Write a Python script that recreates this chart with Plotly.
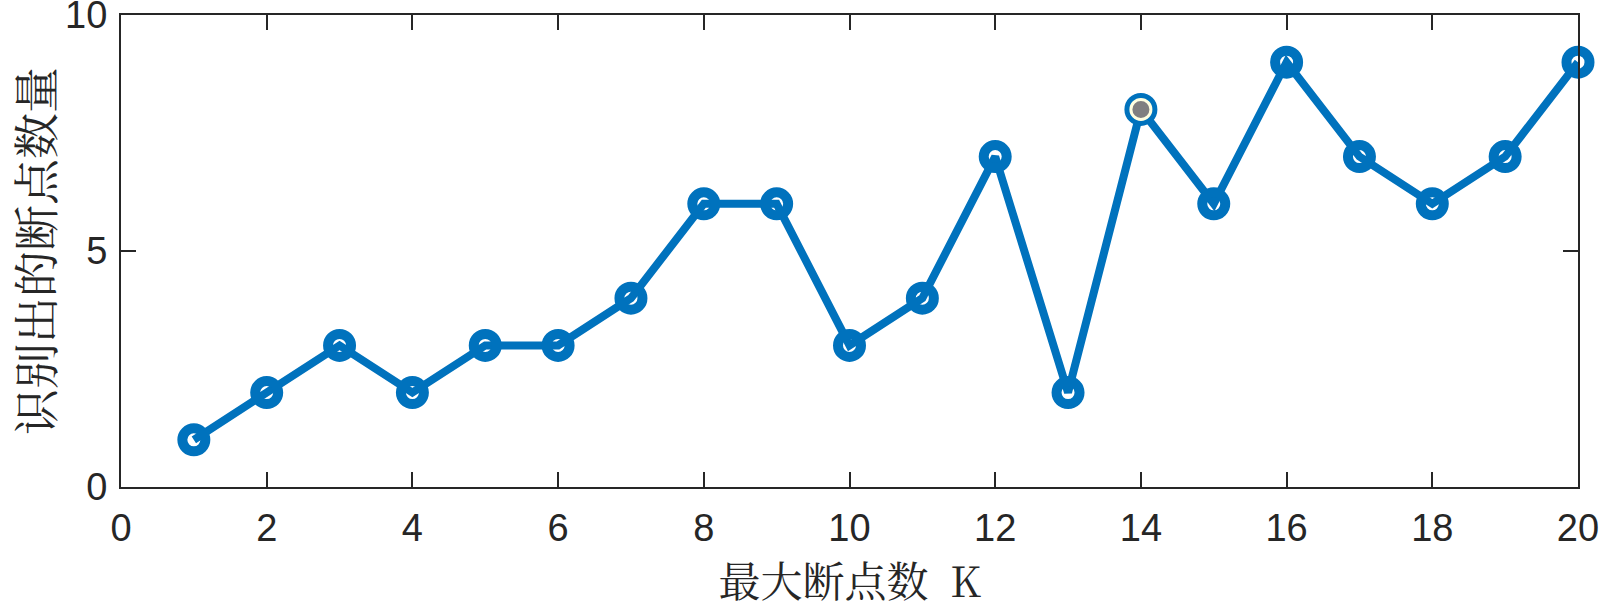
import plotly.graph_objects as go

# max breakpoints K vs number of identified breakpoints
k_values = list(range(1, 21))
found_counts = [1, 2, 3, 2, 3, 3, 4, 6, 6, 3, 4, 7, 2, 8, 6, 9, 7, 6, 7, 9]

highlight_k = [14]
highlight_count = [8]

x_ticks = [0, 2, 4, 6, 8, 10, 12, 14, 16, 18, 20]
y_ticks = [0, 5, 10]

blue = '#0072BD'
axis_color = '#262626'

fig = go.Figure()

fig.add_trace(go.Scatter(
    x=k_values, y=found_counts,
    mode='lines+markers',
    line=dict(color=blue, width=8),
    marker=dict(symbol='circle-open', size=23, color=blue,
                line=dict(color=blue, width=10)),
    showlegend=False,
    cliponaxis=False,
))

# data tip style highlight
fig.add_trace(go.Scatter(
    x=highlight_k, y=highlight_count,
    mode='markers',
    marker=dict(symbol='circle', size=20, color='#808080',
                line=dict(color='#FFFFE0', width=3)),
    showlegend=False,
))

tick_font = dict(family='Liberation Sans, Arial, sans-serif', size=38, color=axis_color)
cjk_font = dict(family='Noto Serif CJK SC, Noto Sans CJK SC, sans-serif', size=42, color=axis_color)

fig.update_xaxes(
    range=[0, 20], tickvals=x_ticks,
    ticks='inside', ticklen=15, tickwidth=2, tickcolor=axis_color,
    showline=True, linecolor=axis_color, linewidth=2, mirror='ticks',
    showgrid=False, zeroline=False, automargin=False,
    tickfont=tick_font, ticklabelstandoff=6, ticklabeloverflow='allow',
    title=dict(text='最大断点数  K', font=cjk_font, standoff=18),
)
fig.update_yaxes(
    range=[0, 10], tickvals=y_ticks,
    ticks='inside', ticklen=15, tickwidth=2, tickcolor=axis_color,
    showline=True, linecolor=axis_color, linewidth=2, mirror='ticks',
    showgrid=False, zeroline=False, automargin=False,
    tickfont=tick_font, ticklabelstandoff=4, ticklabeloverflow='allow',
    title=dict(text='识别出的断点数量', font=dict(cjk_font, size=46), standoff=29),
)

fig.update_layout(
    width=1600, height=610,
    margin=dict(l=121, r=22, t=15, b=123),
    plot_bgcolor='white', paper_bgcolor='white',
)

# drop the default body margin so the figure sits at the page corner
fig.write_html("out.html", config={'displayModeBar': False},
               post_script="document.body.style.margin='0';")
